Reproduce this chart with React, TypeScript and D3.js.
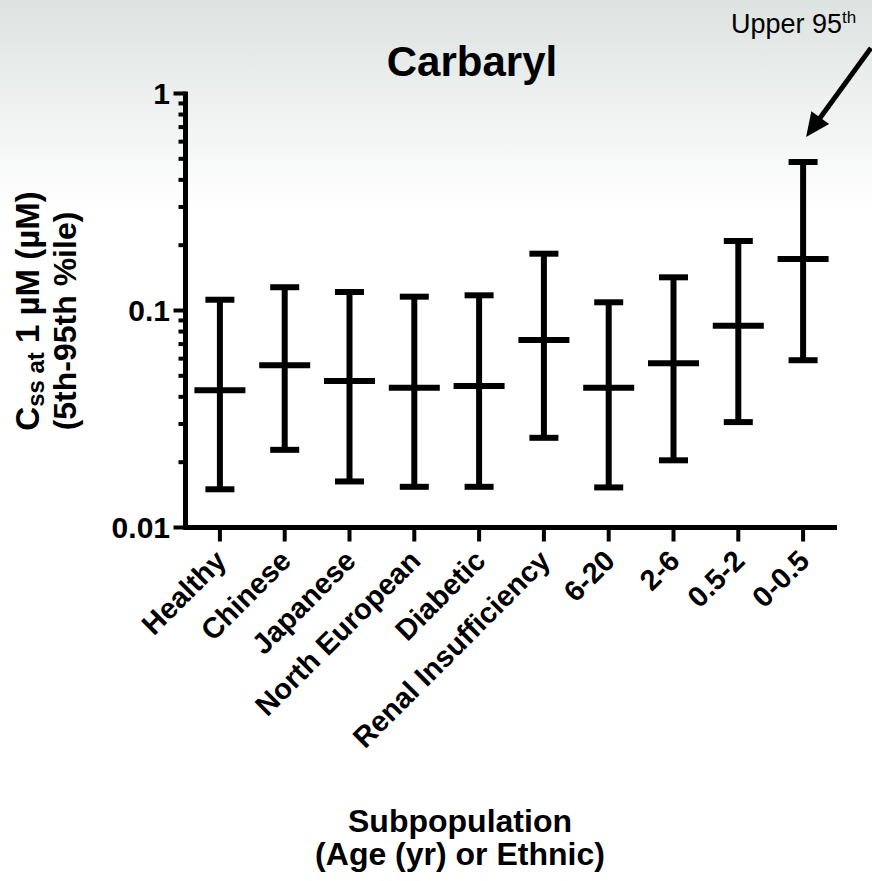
import React from "react";
import * as d3 from "d3";

// Subpopulation categories (ethnic groups, health status and age bands in years)
const categories = [
  "Healthy",
  "Chinese",
  "Japanese",
  "North European",
  "Diabetic",
  "Renal Insufficiency",
  "6-20",
  "2-6",
  "0.5-2",
  "0-0.5",
];

// Steady-state concentration at 1 µM exposure (µM)
const p5 = [0.015, 0.0228, 0.0163, 0.0154, 0.0154, 0.0259, 0.0153, 0.0204, 0.0306, 0.059];
const median = [0.0429, 0.0559, 0.0473, 0.0441, 0.0449, 0.0731, 0.044, 0.0571, 0.0851, 0.1727];
const p95 = [0.1121, 0.128, 0.1217, 0.1158, 0.1175, 0.1827, 0.1091, 0.1422, 0.2091, 0.4833];

const yTickLabels = ["0.01", "0.1", "1"];

const W = 872;
const H = 881;
const FONT = "Arial, 'Liberation Sans', Helvetica, sans-serif";

export default function App() {
  const axisX = 185.5;
  const axisY = 527.5;
  const x = d3.scaleBand<string>().domain(categories).range([187.5, 835.5]);
  const y = d3.scaleLog().domain([0.01, 1]).range([527.5, 93.5]);
  const cx = (c: string) => (x(c) as number) + x.bandwidth() / 2;

  const minorTicks = y.ticks();
  const majorVals = yTickLabels.map(Number);

  // annotation arrow pointing at the upper 95th of the last group
  const last = categories.length - 1;
  const tip: [number, number] = [cx(categories[last]) + 3, y(p95[last]) - 25];
  const tail: [number, number] = [871, 48];
  const dx = tip[0] - tail[0];
  const dy = tip[1] - tail[1];
  const len = Math.hypot(dx, dy);
  const ux = dx / len;
  const uy = dy / len;
  const headLen = 24;
  const headHalf = 11;
  const base: [number, number] = [tip[0] - ux * headLen, tip[1] - uy * headLen];
  const head = [
    tip,
    [base[0] - uy * headHalf, base[1] + ux * headHalf],
    [base[0] + uy * headHalf, base[1] - ux * headHalf],
  ];

  return (
    <svg
      width={W}
      height={H}
      style={{ position: "absolute", left: 0, top: 0 }}
      fontFamily={FONT}
    >
      <defs>
        <linearGradient id="bg" x1="0" y1="0" x2="0" y2="1">
          <stop offset="0" stopColor="#dde3e1" />
          <stop offset="0.24" stopColor="#ffffff" />
          <stop offset="1" stopColor="#ffffff" />
        </linearGradient>
      </defs>
      <rect x={0} y={0} width={W} height={H} fill="url(#bg)" />

      {/* title */}
      <text x={472} y={76} textAnchor="middle" fontSize={42} fontWeight="bold" fill="#000">
        Carbaryl
      </text>

      {/* annotation */}
      <text x={731} y={33} fontSize={27} fill="#000">
        Upper 95
        <tspan fontSize={17} dy={-10}>
          th
        </tspan>
      </text>
      <line
        x1={tail[0]}
        y1={tail[1]}
        x2={base[0] + ux * 2}
        y2={base[1] + uy * 2}
        stroke="#000"
        strokeWidth={5}
      />
      <polygon points={head.map((p) => p.join(",")).join(" ")} fill="#000" />

      {/* y axis */}
      <line x1={axisX} x2={axisX} y1={y(1) - 2} y2={axisY + 2} stroke="#000" strokeWidth={5} />
      {minorTicks.map((t, i) => {
        const major = majorVals.some((m) => Math.abs(m - t) < 1e-9);
        return (
          <line
            key={i}
            x1={axisX - (major ? 12 : 7)}
            x2={axisX}
            y1={y(t)}
            y2={y(t)}
            stroke="#000"
            strokeWidth={4}
          />
        );
      })}
      {yTickLabels.map((t) => (
        <text
          key={t}
          x={170}
          y={y(Number(t))}
          dy="0.36em"
          textAnchor="end"
          fontSize={30}
          fontWeight="bold"
          fill="#000"
        >
          {t}
        </text>
      ))}

      {/* y axis title */}
      <g transform="translate(39,311) rotate(-90)">
        <text textAnchor="middle" fontSize={33} fontWeight="bold" fill="#000">
          C
          <tspan fontSize={24} dy={5}>
            ss at
          </tspan>
          <tspan dy={-5}> 1 µM  (µM)</tspan>
        </text>
        <text y={37} x={-10} textAnchor="middle" fontSize={32} fontWeight="bold" fill="#000">
          (5th-95th %ile)
        </text>
      </g>

      {/* x axis */}
      <line x1={axisX - 2} x2={837} y1={axisY} y2={axisY} stroke="#000" strokeWidth={5} />
      {categories.map((c) => (
        <line key={c} x1={cx(c)} x2={cx(c)} y1={axisY} y2={axisY + 14} stroke="#000" strokeWidth={4} />
      ))}
      {categories.map((c) => (
        <text
          key={c}
          transform={`translate(${cx(c) + 8},${axisY + 35}) rotate(-45)`}
          textAnchor="end"
          fontSize={29}
          fontWeight="bold"
          fill="#000"
        >
          {c}
        </text>
      ))}

      {/* x axis title */}
      <text x={460} y={832} textAnchor="middle" fontSize={32} fontWeight="bold" fill="#000">
        Subpopulation
      </text>
      <text x={460} y={865} textAnchor="middle" fontSize={32} fontWeight="bold" fill="#000">
        (Age (yr) or Ethnic)
      </text>

      {/* error bars: 5th to 95th percentile with median line */}
      {categories.map((c, i) => {
        const xc = cx(c);
        return (
          <g key={c} stroke="#000" strokeWidth={6}>
            <line x1={xc} x2={xc} y1={y(p95[i])} y2={y(p5[i])} />
            <line x1={xc - 14.5} x2={xc + 14.5} y1={y(p95[i])} y2={y(p95[i])} />
            <line x1={xc - 14.5} x2={xc + 14.5} y1={y(p5[i])} y2={y(p5[i])} />
            <line x1={xc - 25.5} x2={xc + 25.5} y1={y(median[i])} y2={y(median[i])} />
          </g>
        );
      })}
    </svg>
  );
}
